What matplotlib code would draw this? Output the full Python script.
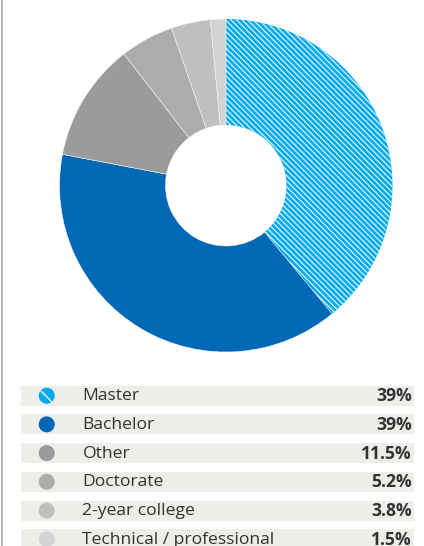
import numpy as np
import matplotlib
matplotlib.use("Agg")
import matplotlib.pyplot as plt
from matplotlib.patches import Rectangle, Circle
from matplotlib.lines import Line2D

plt.rcParams['font.family'] = ['Open Sans', 'DejaVu Sans']
plt.rcParams['hatch.linewidth'] = 0.9

# Degree shares
labels = ['Master', 'Bachelor', 'Other', 'Doctorate', '2-year college', 'Technical / professional']
shares = [39, 39, 11.5, 5.2, 3.8, 1.5]
colors = ['#00AAE8', '#0068B5', '#9A9B9C', '#ABACAD', '#BEBFBF', '#D3D3D3']
hatched = [True, False, False, False, False, False]

W, H = 424, 546
fig = plt.figure(figsize=(W / 100, H / 100), dpi=100)

# Donut, centre and radius in pixels
cx, cy, r_out, r_in = 226, 185.5, 166.5, 60.5
ax = fig.add_axes([(cx - r_out) / W, (H - cy - r_out) / H, 2 * r_out / W, 2 * r_out / H])
wedges, _ = ax.pie(shares, colors=colors, startangle=90, counterclock=False,
                   radius=1, wedgeprops=dict(width=1 - r_in / r_out, linewidth=0.4,
                                             edgecolor='#f4f4f4'))
for w, h in zip(wedges, hatched):
    if h:
        w.set_hatch('\\' * 6)
        w.set_edgecolor('#DDF3FC')
        w.set_linewidth(0)
ax.set_xlim(-1, 1)
ax.set_ylim(-1, 1)
ax.axis('off')

# Legend table in pixel coordinates
lg = fig.add_axes([0, 0, 1, 1])
lg.set_xlim(0, W)
lg.set_ylim(H, 0)
lg.axis('off')

row_top, row_h, pitch = 385.7, 20, 28.7
for i, (lab, v, c, h) in enumerate(zip(labels, shares, colors, hatched)):
    y0 = row_top + i * pitch
    yc = y0 + row_h / 2
    lg.add_patch(Rectangle((21, y0), 393, row_h, facecolor='#EDEDE9', edgecolor='none'))
    dot = Circle((46.7, yc), 8, facecolor=c, edgecolor='white' if h else 'none',
                 linewidth=0, hatch='\\\\' if h else None)
    lg.add_patch(dot)
    lg.text(82.5, yc + 0.5, lab, fontsize=12.6, color='#333333', va='center', ha='left')
    lg.text(412, yc + 0.5, f"{v:g}%", fontsize=12.6, color='#333333', va='center',
            ha='right', fontweight='bold')

# Thin rule down the left edge
fig.add_artist(Line2D([1.5 / W, 1.5 / W], [0, 1], color='#A8A8A8', linewidth=1.2))

fig.savefig('out.png', dpi=100)
